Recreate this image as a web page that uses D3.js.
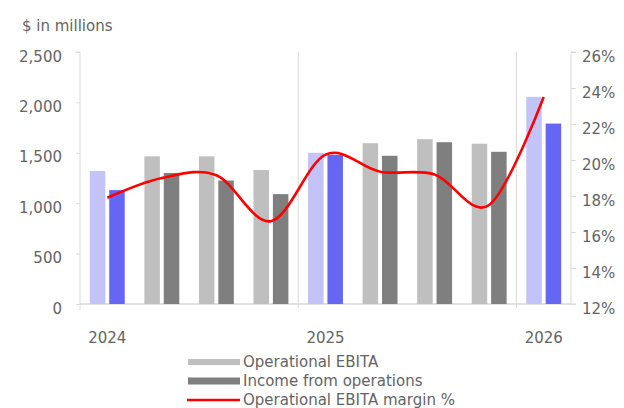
<!DOCTYPE html>
<html>
<head>
<meta charset="utf-8">
<script src="https://cdn.jsdelivr.net/npm/d3@7"></script>
<style>
  html, body { margin: 0; padding: 0; background: #fff; }
  svg { display: block; font-family: "DejaVu Sans", Verdana, sans-serif; }
</style>
</head>
<body>
<svg id="chart" width="624" height="408"></svg>
<script>
// Quarterly results, $ in millions, with operational EBITA margin
const quarters = ["Q1 2024", "Q2 2024", "Q3 2024", "Q4 2024",
                  "Q1 2025", "Q2 2025", "Q3 2025", "Q4 2025", "Q1 2026"];
const yearLabels = ["2024", "", "", "", "2025", "", "", "", "2026"];
const operationalEbita = [1320, 1465, 1465, 1330, 1500, 1595, 1635, 1590, 2055];
const incomeFromOps    = [1130, 1300, 1225, 1090, 1480, 1470, 1605, 1510, 1790];
const ebitaMargin      = [17.9, 19.0, 19.15, 16.6, 20.3, 19.35, 19.2, 17.5, 23.5];
const leftTicks  = [0, 500, 1000, 1500, 2000, 2500];
const rightTicks = [12, 14, 16, 18, 20, 22, 24, 26];
const seriesNames = ["Operational EBITA", "Income from operations", "Operational EBITA margin %"];

const svg = d3.select("#chart");
const plotLeft = 80, plotRight = 571, plotTop = 52, plotBottom = 304;
const fontSize = 15;
const fontFamily = "DejaVu Sans";

const x = d3.scaleBand().domain(quarters).range([plotLeft, plotRight]);
const bw = x.bandwidth();
const xInner = d3.scaleBand().domain(["ebita", "income"])
  .range([bw * 0.18, bw * 0.82]).paddingInner(0.2);
const y = d3.scaleLinear().domain([0, 2500]).range([plotBottom, plotTop]);
const yR = d3.scaleLinear().domain([12, 26]).range([plotBottom, plotTop]);

const textColor = "#646464";
const axisColor = "#d9d9d9";

// Year divider lines
quarters.forEach((q, i) => {
  if (i > 0 && yearLabels[i]) {
    svg.append("line")
      .attr("x1", x(q)).attr("x2", x(q))
      .attr("y1", plotTop).attr("y2", plotBottom + 4)
      .attr("stroke", axisColor).attr("stroke-width", 1);
  }
});

// Left axis
const gL = svg.append("g").attr("transform", `translate(${plotLeft},0)`)
  .call(d3.axisLeft(y).tickValues(leftTicks).tickSize(4).tickPadding(14)
    .tickFormat(d3.format(",")));
gL.select(".domain").attr("stroke", axisColor).attr("d", `M-4,${plotTop}H0V${plotBottom + 6}`);
gL.selectAll(".tick line").attr("stroke", axisColor);
gL.selectAll(".tick text").attr("fill", textColor).attr("font-size", fontSize)
  .attr("dy", "0.6em").attr("font-family", fontFamily);

// Right axis
const gR = svg.append("g").attr("transform", `translate(${plotRight},0)`)
  .call(d3.axisRight(yR).tickValues(rightTicks).tickSize(5).tickPadding(6)
    .tickFormat(d => d + "%"));
gR.select(".domain").attr("stroke", axisColor).attr("d", `M5,${plotTop}H0V${plotBottom}H5`);
gR.selectAll(".tick line").attr("stroke", axisColor);
gR.selectAll(".tick text").attr("fill", textColor).attr("font-size", fontSize)
  .attr("dy", "0.6em").attr("font-family", fontFamily);

// Bottom axis line
svg.append("line")
  .attr("x1", plotLeft).attr("x2", plotRight).attr("y1", plotBottom).attr("y2", plotBottom)
  .attr("stroke", axisColor).attr("stroke-width", 1.5);

// Year labels
svg.append("g").selectAll("text").data(quarters).join("text")
  .attr("x", d => x(d) + bw / 2)
  .attr("y", 343)
  .attr("text-anchor", "middle")
  .attr("font-size", fontSize)
  .attr("fill", textColor)
  .text((d, i) => yearLabels[i]);

// Bars
const colors = {
  ebita:  { normal: "#bfbfbf", year: "#c3c3f8" },
  income: { normal: "#7f7f7f", year: "#6666f4" }
};
const groups = svg.append("g").selectAll("g").data(quarters).join("g")
  .attr("transform", d => `translate(${x(d)},0)`);
groups.append("rect")
  .attr("x", xInner("ebita")).attr("width", xInner.bandwidth())
  .attr("y", (d, i) => y(operationalEbita[i]))
  .attr("height", (d, i) => y(0) - y(operationalEbita[i]))
  .attr("fill", (d, i) => yearLabels[i] ? colors.ebita.year : colors.ebita.normal);
groups.append("rect")
  .attr("x", xInner("income")).attr("width", xInner.bandwidth())
  .attr("y", (d, i) => y(incomeFromOps[i]))
  .attr("height", (d, i) => y(0) - y(incomeFromOps[i]))
  .attr("fill", (d, i) => yearLabels[i] ? colors.income.year : colors.income.normal);

// Margin line
const line = d3.line()
  .x((d, i) => x(quarters[i]) + bw / 2)
  .y(d => yR(d))
  .curve(d3.curveCardinal.tension(0));
svg.append("path")
  .datum(ebitaMargin)
  .attr("d", line)
  .attr("fill", "none")
  .attr("stroke", "#ff0000")
  .attr("stroke-width", 2.6);

// Unit label
svg.append("text")
  .attr("x", 22).attr("y", 31)
  .attr("font-size", fontSize).attr("fill", textColor)
  .text("$ in millions");

// Legend
const lg = svg.append("g");
const legendY = [362, 381, 400];
lg.append("rect").attr("x", 188).attr("y", legendY[0] - 3).attr("width", 52).attr("height", 6)
  .attr("fill", colors.ebita.normal);
lg.append("rect").attr("x", 188).attr("y", legendY[1] - 3.5).attr("width", 52).attr("height", 7)
  .attr("fill", colors.income.normal);
lg.append("line").attr("x1", 187).attr("x2", 240).attr("y1", legendY[2]).attr("y2", legendY[2])
  .attr("stroke", "#ff0000").attr("stroke-width", 2.6);
lg.selectAll("text").data(seriesNames).join("text")
  .attr("x", 243)
  .attr("y", (d, i) => legendY[i] + 5)
  .attr("font-size", fontSize)
  .attr("fill", textColor)
  .text(d => d);
</script>
</body>
</html>
